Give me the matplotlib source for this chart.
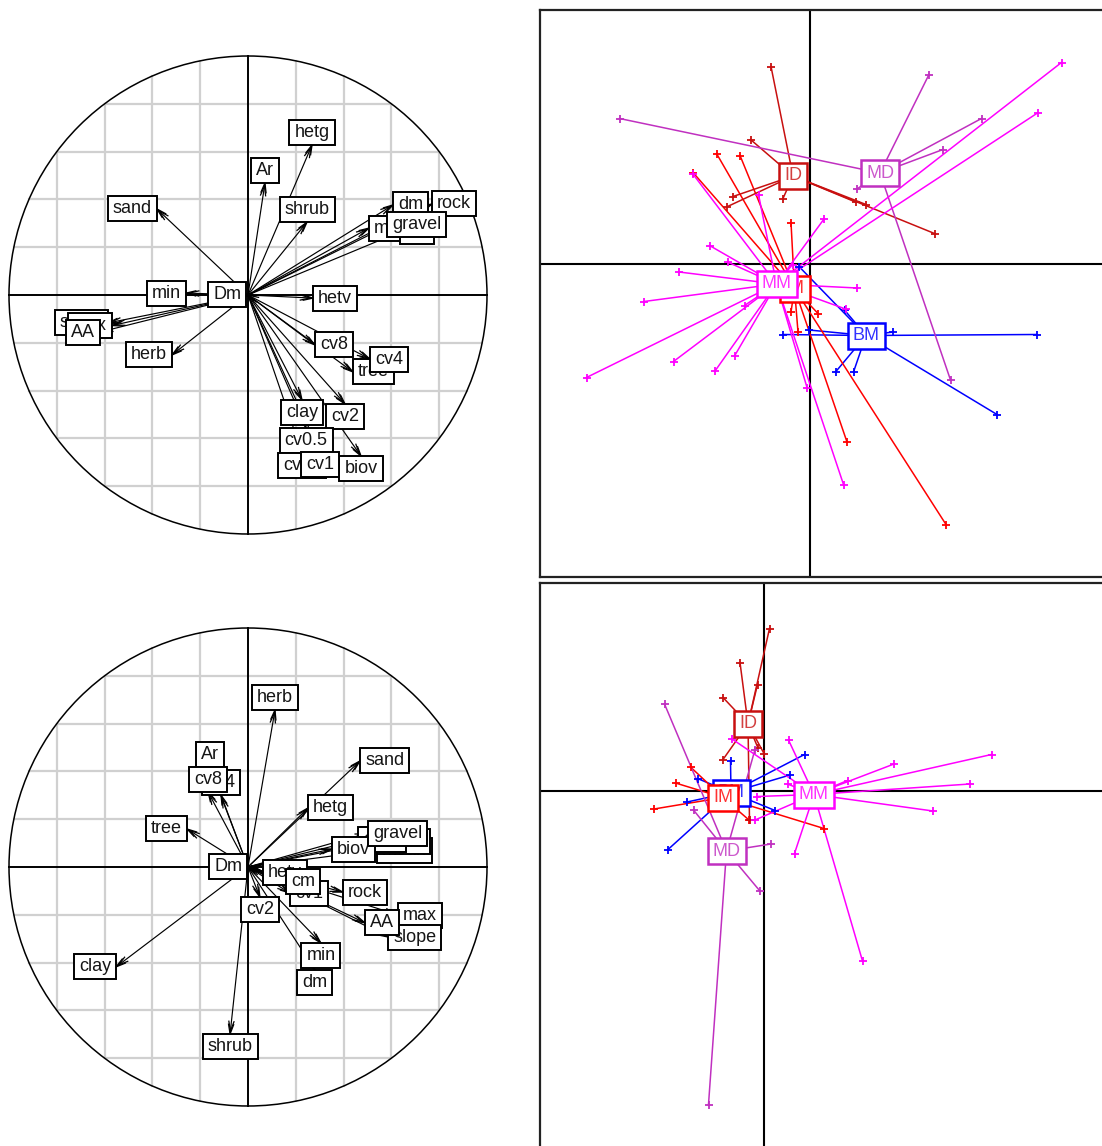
import numpy as np
import matplotlib
matplotlib.use("Agg")
import matplotlib.pyplot as plt
from matplotlib.patches import Rectangle, Circle

plt.rcParams['font.family'] = ['Liberation Sans', 'DejaVu Sans']

W, H = 1102, 1146

# ---------------- correlation circles: variable coordinates ----------------
top_names = ["Ar", "hetg", "shrub", "sand", "dm", "rock", "mean", "cm", "gravel",
             "min", "Dm", "hetv", "slope", "max", "AA", "herb", "cv8", "tree",
             "cv4", "cv2", "clay", "cv0.5", "cv16", "biov", "cv1"]
top_x = [0.071, 0.268, 0.247, -0.381, 0.607, 0.770, 0.506, 0.636, 0.582,
         -0.259, -0.008, 0.272, -0.586, -0.569, -0.619, -0.318, 0.280, 0.439,
         0.510, 0.406, 0.226, 0.243, 0.226, 0.473, 0.301]
top_y = [0.469, 0.628, 0.305, 0.360, 0.377, 0.381, 0.280, 0.264, 0.297,
         0.008, 0.004, -0.013, -0.117, -0.128, -0.155, -0.251, -0.209, -0.322,
         -0.268, -0.456, -0.439, -0.556, -0.661, -0.674, -0.657]

bot_names = ["herb", "Ar", "cv4", "cv8", "tree", "sand", "hetg", "mean", "cv0.5",
             "cv16", "biov", "gravel", "Dm", "hetv", "cv1", "cm", "rock", "max",
             "slope", "AA", "cv2", "dm", "min", "clay", "shrub"]
bot_x = [0.113, -0.159, -0.113, -0.167, -0.255, 0.469, 0.251, 0.540, 0.540,
         0.460, 0.351, 0.502, -0.004, 0.063, 0.176, 0.159, 0.397, 0.628,
         0.586, 0.490, 0.050, 0.280, 0.305, -0.552, -0.075]
bot_y = [0.657, 0.418, 0.301, 0.314, 0.159, 0.444, 0.247, 0.071, 0.105,
         0.113, 0.075, 0.142, 0.002, -0.022, -0.109, -0.062, -0.105, -0.201,
         -0.293, -0.234, -0.126, -0.431, -0.318, -0.418, -0.699]

# ---------------- class scatter plots: centroids and individuals ----------------
class_names = ["BM", "IM", "ID", "MD", "MM"]
class_colors = {"BM": "#0000ff", "IM": "#ff0000", "ID": "#c81010",
                "MD": "#c030c0", "MM": "#ff00ff"}

# upper panel
up_cent = {"BM": (1.12, -1.43), "IM": (-0.31, -0.49), "ID": (-0.34, 1.76),
           "MD": (1.40, 1.82), "MM": (-0.67, -0.40)}
up_BM_x = [4.53, -0.54, 1.66, 3.74, 0.51, 0.87, -0.02, 0.69, -0.22]
up_BM_y = [-1.41, -1.41, -1.36, -3.01, -2.16, -2.16, -1.32, -0.92, -0.05]
up_IM_x = [-1.87, -1.40, -2.34, -0.38, 0.74, 2.72, 0.16, -0.24, -0.38]
up_IM_y = [2.21, 2.17, 1.83, 0.83, -3.56, -5.21, -0.99, -1.36, -0.96]
up_ID_x = [-0.78, -1.19, -0.54, -1.54, -1.67, 2.49, 1.12, 0.91]
up_ID_y = [3.95, 2.49, 1.31, 1.35, 1.14, 0.61, 1.19, 1.24]
up_MD_x = [-3.81, 2.38, 3.43, 2.66, 0.94, 2.81]
up_MD_y = [2.91, 3.79, 2.91, 2.29, 1.50, -2.32]
up_MM_x = [5.03, 4.55, 0.28, -2.35, -1.03, -2.01, -1.65, -2.62, -3.32, 0.94,
           0.71, -1.31, -4.47, -2.73, -1.90, -1.51, -0.06, 0.67, -0.35]
up_MM_y = [4.03, 3.02, 0.90, 1.81, 1.39, 0.37, 0.04, -0.16, -0.75, -0.48,
           -0.90, -0.83, -2.27, -1.95, -2.14, -1.84, -2.47, -4.41, -0.01]

# lower panel
lo_cent = {"BM": (-0.66, -0.03), "IM": (-0.82, -0.13), "ID": (-0.32, 1.34),
           "MD": (-0.75, -1.20), "MM": (1.00, -0.07)}
lo_BM_x = [0.81, 0.52, -0.67, -1.33, -1.54, -1.92, 0.22]
lo_BM_y = [0.73, 0.32, 0.61, 0.25, -0.22, -1.17, -0.39]
lo_IM_x = [-1.77, -2.20, -1.47, 1.20, -0.30]
lo_IM_y = [0.16, -0.36, 0.48, -0.75, -0.58]
lo_ID_x = [0.11, -0.48, -0.13, -0.82, -0.82, -0.12, 0.00, -0.29]
lo_ID_y = [3.25, 2.57, 2.13, 1.87, 0.63, 0.86, 0.75, -0.58]
lo_MD_x = [-1.99, -1.41, 0.14, -0.09, -1.11, -0.18]
lo_MD_y = [1.74, -0.38, -1.06, -1.99, -6.27, 0.83]
lo_MM_x = [4.55, 4.12, 2.60, 1.67, 3.38, 1.97, 0.61, 0.49, -0.64, -0.18, -0.14, 0.47]
lo_MM_y = [0.73, 0.14, 0.54, 0.21, -0.40, -3.40, -1.25, 1.02, 1.04, -0.58, -0.11, 0.14]

up_pts = {"BM": (up_BM_x, up_BM_y), "IM": (up_IM_x, up_IM_y), "ID": (up_ID_x, up_ID_y),
          "MD": (up_MD_x, up_MD_y), "MM": (up_MM_x, up_MM_y)}
lo_pts = {"BM": (lo_BM_x, lo_BM_y), "IM": (lo_IM_x, lo_IM_y), "ID": (lo_ID_x, lo_ID_y),
          "MD": (lo_MD_x, lo_MD_y), "MM": (lo_MM_x, lo_MM_y)}

FS = 13  # label font size (pt)

fig = plt.figure(figsize=(W / 100, H / 100), dpi=100)
renderer = fig.canvas.get_renderer()


def px_axes(left, top, width, height):
    return fig.add_axes([left / W, 1 - (top + height) / H, width / W, height / H])


def text_width_px(ax, s):
    t = ax.text(0, 0, s, fontsize=FS)
    w = t.get_window_extent(renderer).width
    t.remove()
    return w


def corcircle(ax, names, xs, ys, ppu):
    lim = 248 / ppu
    ax.set_xlim(-lim, lim)
    ax.set_ylim(-lim, lim)
    ax.set_aspect('equal')
    ax.axis('off')
    # grid clipped to the unit circle
    for c in np.round(np.arange(-0.8, 0.81, 0.2), 2):
        if abs(c) < 1e-9:
            continue
        h = np.sqrt(1 - c * c)
        ax.plot([c, c], [-h, h], color='#d0d0d0', lw=1.6, zorder=1)
        ax.plot([-h, h], [c, c], color='#d0d0d0', lw=1.6, zorder=1)
    ax.plot([-1, 1], [0, 0], color='black', lw=1.4, zorder=2)
    ax.plot([0, 0], [-1, 1], color='black', lw=1.4, zorder=2)
    ax.add_patch(Circle((0, 0), 1, fill=False, ec='black', lw=1.1, zorder=2))

    # arrows with open heads
    L = 10 / ppu
    for x, y in zip(xs, ys):
        ax.plot([0, x], [0, y], color='black', lw=0.85, zorder=3)
        d = np.hypot(x, y)
        if d == 0:
            continue
        ux, uy = -x / d, -y / d
        for back in (0.0, 3.0 / ppu):
            tx, ty = x + back * ux, y + back * uy
            for a in (np.radians(15), np.radians(-15)):
                cx = ux * np.cos(a) - uy * np.sin(a)
                cy = ux * np.sin(a) + uy * np.cos(a)
                ax.plot([tx, tx + L * cx], [ty, ty + L * cy], color='black', lw=0.9, zorder=3)

    # boxed labels placed outward from each arrow tip
    for i, (s, x, y) in enumerate(zip(names, xs, ys)):
        wpx = text_width_px(ax, s) + 10
        hpx = 25
        xh = wpx / ppu
        yh = hpx / 2 / ppu
        if x > y and x > -y:
            x1, y1 = x + xh / 2, y
        elif x > y and x <= -y:
            x1, y1 = x, y - yh
        elif x <= y and x <= -y:
            x1, y1 = x - xh / 2, y
        else:
            x1, y1 = x, y + yh
        z = 10 + 2 * i
        ax.add_patch(Rectangle((x1 - xh / 2, y1 - yh), xh, 2 * yh, facecolor='white',
                               edgecolor='black', lw=1.4, zorder=z))
        ax.text(x1, y1, s, fontsize=FS, ha='center', va='center', color='#151515', zorder=z + 1)


def sclass(ax, cent, pts, xlim, ylim, ppu):
    ax.set_xlim(*xlim)
    ax.set_ylim(*ylim)
    ax.set_xticks([])
    ax.set_yticks([])
    for sp in ax.spines.values():
        sp.set_linewidth(1.6)
        sp.set_color('#222222')
    ax.axhline(0, color='black', lw=1.5, zorder=1)
    ax.axvline(0, color='black', lw=1.5, zorder=1)
    for k in class_names:
        col = class_colors[k]
        cx, cy = cent[k]
        px_, py_ = pts[k]
        for x, y in zip(px_, py_):
            ax.plot([cx, x], [cy, y], color=col, lw=1.1, zorder=2)
        ax.plot(px_, py_, linestyle='none', marker='+', ms=5.5, mew=1.3, color=col, zorder=3)
    for i, k in enumerate(class_names):
        col = class_colors[k]
        cx, cy = cent[k]
        wpx = text_width_px(ax, k) + 10
        hpx = 26
        w, h = wpx / ppu, hpx / ppu
        z = 10 + 2 * i
        ax.add_patch(Rectangle((cx - w / 2, cy - h / 2), w, h, facecolor='white',
                               edgecolor=col, lw=1.8, zorder=z))
        ax.text(cx, cy, k, fontsize=FS, ha='center', va='center', color=col,
                alpha=0.8, zorder=z + 1)


# left: correlation circles
ax1 = px_axes(0, 47, 496, 496)
corcircle(ax1, top_names, top_x, top_y, 239)
ax2 = px_axes(0, 619, 496, 496)
corcircle(ax2, bot_names, bot_x, bot_y, 239)

# right: class scatter plots (50 px per unit)
ax3 = px_axes(540, 10, 575, 567)
sclass(ax3, up_cent, up_pts, ((540 - 810) / 50, (1115 - 810) / 50),
       ((264 - 577) / 50, (264 - 10) / 50), 50)
ax4 = px_axes(540, 583, 575, 575)
sclass(ax4, lo_cent, lo_pts, ((540 - 764) / 50, (1115 - 764) / 50),
       ((791 - 1158) / 50, (791 - 583) / 50), 50)

fig.savefig("out.png", dpi=100, facecolor='white')
